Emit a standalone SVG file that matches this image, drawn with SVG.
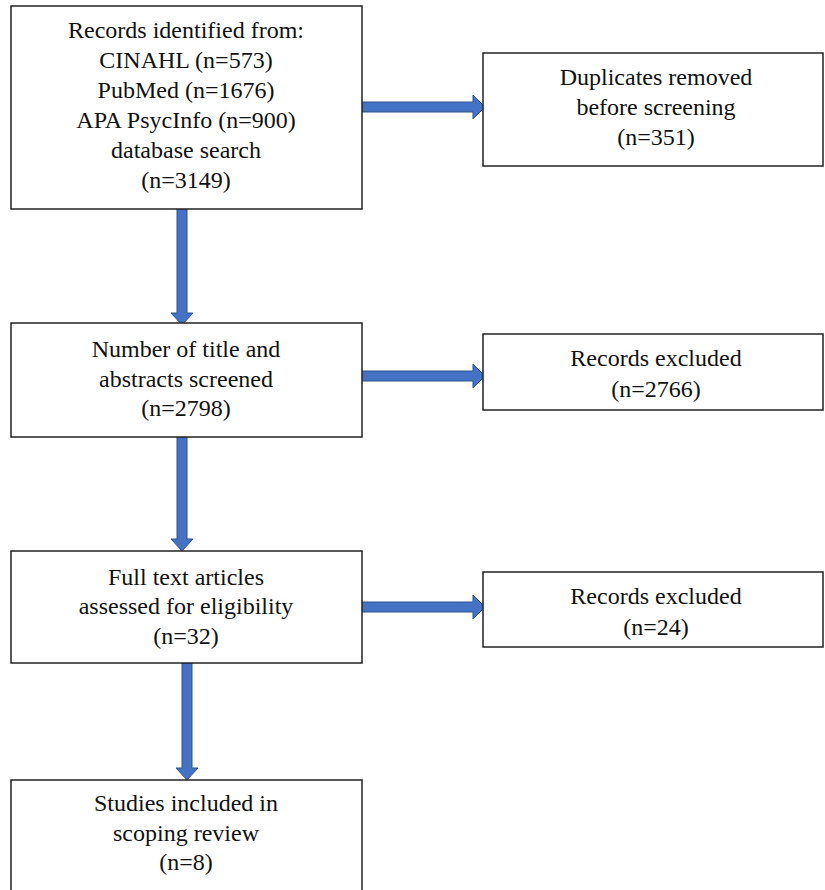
<svg xmlns="http://www.w3.org/2000/svg" width="825" height="890" viewBox="0 0 825 890">
<style>
.box{fill:#fff;stroke:#222;stroke-width:1.5}
.t{font-size:24px;fill:#111;text-anchor:middle}
.arr{fill:#4472C4;stroke:#2F528F;stroke-width:1}
</style>
<rect width="825" height="890" fill="#fff"/>
<g id="connectors">
<path class="arr" d="M362,102 H473 V95 L485,107 L473,119 V112 H362 Z"/>
<path class="arr" d="M362,371 H473 V364 L485,376 L473,388 V381 H362 Z"/>
<path class="arr" d="M362,602 H473 V595 L485,607 L473,619 V612 H362 Z"/>
<path class="arr" d="M177,209 V313 H171 L182,325 L193,313 H187 V209 Z"/>
<path class="arr" d="M177,437 V539 H171 L182,551 L193,539 H187 V437 Z"/>
<path class="arr" d="M182,663 V768 H176 L187,780 L198,768 H192 V663 Z"/>
</g>
<g font-family="Liberation Serif, DejaVu Serif, serif">
<g id="n1">
<rect class="box" x="11" y="6" width="351" height="203"/>
<text class="t" x="186" y="38">Records identified from:</text>
<text class="t" x="186" y="68">CINAHL (n=573)</text>
<text class="t" x="186" y="98">PubMed (n=1676)</text>
<text class="t" x="186" y="128">APA PsycInfo (n=900)</text>
<text class="t" x="186" y="158">database search</text>
<text class="t" x="186" y="188">(n=3149)</text>
</g>
<g id="n2">
<rect class="box" x="483" y="53" width="340" height="113"/>
<text class="t" x="656" y="85">Duplicates removed</text>
<text class="t" x="656" y="115">before screening</text>
<text class="t" x="656" y="145">(n=351)</text>
</g>
<g id="n3">
<rect class="box" x="11" y="323" width="351" height="114"/>
<text class="t" x="186" y="357">Number of title and</text>
<text class="t" x="186" y="387">abstracts screened</text>
<text class="t" x="186" y="416">(n=2798)</text>
</g>
<g id="n4">
<rect class="box" x="483" y="334" width="340" height="76"/>
<text class="t" x="656" y="366">Records excluded</text>
<text class="t" x="656" y="397">(n=2766)</text>
</g>
<g id="n5">
<rect class="box" x="11" y="551" width="351" height="112"/>
<text class="t" x="186" y="585">Full text articles</text>
<text class="t" x="186" y="614">assessed for eligibility</text>
<text class="t" x="186" y="644">(n=32)</text>
</g>
<g id="n6">
<rect class="box" x="483" y="572" width="340" height="75"/>
<text class="t" x="656" y="604">Records excluded</text>
<text class="t" x="656" y="635">(n=24)</text>
</g>
<g id="n7">
<rect class="box" x="11" y="780" width="351" height="120"/>
<text class="t" x="186" y="811">Studies included in</text>
<text class="t" x="186" y="841">scoping review</text>
<text class="t" x="186" y="870">(n=8)</text>
</g>
</g>
</svg>
